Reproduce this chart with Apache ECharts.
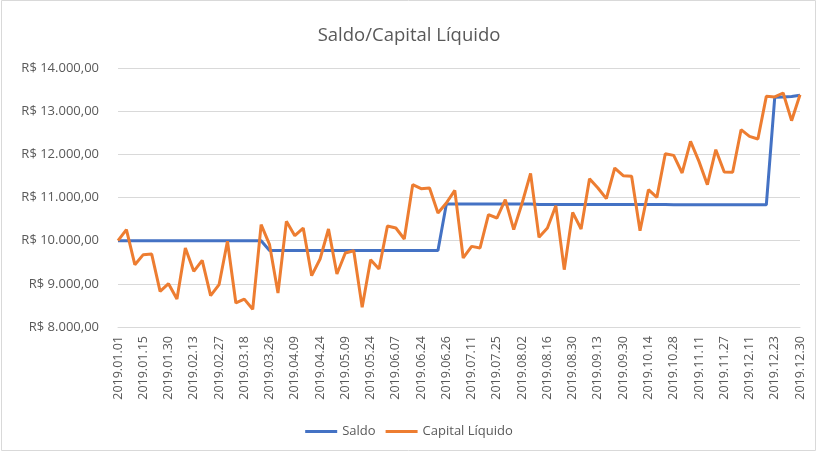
<!DOCTYPE html>
<html>
<head>
<meta charset="utf-8">
<script src="https://cdn.jsdelivr.net/npm/echarts@6/dist/echarts.min.js"></script>
<style>
  html, body { margin: 0; padding: 0; background: #fff; }
  #main { width: 818px; height: 454px; }
</style>
</head>
<body>
<div id="main"></div>
<script>
// datas (só os rótulos a cada 3 pontos aparecem no eixo)
var datas = [
  '2019.01.01','2019.01.04','2019.01.10','2019.01.15','2019.01.21','2019.01.25',
  '2019.01.30','2019.02.04','2019.02.08','2019.02.13','2019.02.18','2019.02.22',
  '2019.02.27','2019.03.07','2019.03.12','2019.03.18','2019.03.20','2019.03.22',
  '2019.03.26','2019.03.29','2019.04.03','2019.04.09','2019.04.12','2019.04.17',
  '2019.04.24','2019.04.29','2019.05.03','2019.05.09','2019.05.14','2019.05.20',
  '2019.05.24','2019.05.29','2019.06.03','2019.06.07','2019.06.12','2019.06.19',
  '2019.06.24','2019.06.25','2019.06.25','2019.06.26','2019.07.02','2019.07.05',
  '2019.07.11','2019.07.16','2019.07.19','2019.07.25','2019.07.29','2019.07.31',
  '2019.08.02','2019.08.07','2019.08.12','2019.08.16','2019.08.21','2019.08.26',
  '2019.08.30','2019.09.04','2019.09.09','2019.09.13','2019.09.18','2019.09.24',
  '2019.09.30','2019.10.03','2019.10.09','2019.10.14','2019.10.18','2019.10.23',
  '2019.10.28','2019.10.31','2019.11.06','2019.11.11','2019.11.14','2019.11.21',
  '2019.11.27','2019.12.02','2019.12.05','2019.12.11','2019.12.16','2019.12.19',
  '2019.12.23','2019.12.26','2019.12.27','2019.12.30'
];

var saldo = [
  10000,10000,10000,10000,10000,10000,10000,10000,10000,10000,
  10000,10000,10000,10000,10000,10000,10000,10000,9770,9770,
  9770,9770,9770,9770,9770,9770,9770,9770,9770,9770,
  9770,9770,9770,9770,9770,9770,9770,9770,9770,10850,
  10850,10850,10850,10850,10850,10850,10850,10850,10850,10850,
  10840,10840,10840,10840,10840,10840,10840,10840,10840,10840,
  10840,10840,10840,10840,10840,10840,10830,10830,10830,10830,
  10830,10830,10830,10830,10830,10830,10830,10830,13320,13330,
  13340,13370
];

var capitalLiquido = [
  10000,10255,9444,9676,9690,8826,9004,8650,9830,9290,
  9544,8726,8980,9985,8557,8645,8410,10370,9907,8788,
  10448,10116,10293,9189,9576,10270,9228,9715,9768,8455,
  9560,9344,10340,10293,10039,11297,11205,11220,10641,10873,
  11165,9599,9868,9831,10602,10525,10950,10255,10873,11560,
  10077,10293,10811,9328,10656,10270,11436,11220,10973,11683,
  11506,11490,10232,11181,11003,12015,11976,11568,12300,11837,
  11297,12108,11591,11583,12571,12416,12356,13343,13329,13421,
  12780,13382
];

var yTicks = [8000, 14000, 1000]; // min, max, intervalo

function reais(v) {
  var s = Math.round(v).toString().replace(/\B(?=(\d{3})+(?!\d))/g, '.');
  return 'R$ ' + s + ',00';
}

var myChart = echarts.init(document.getElementById('main'));

var fonte = '"Open Sans", "Noto Sans", sans-serif';

var option = {
  textStyle: { fontFamily: fonte },
  title: {
    text: 'Saldo/Capital Líquido',
    left: 'center',
    top: 21,
    textStyle: { fontFamily: fonte, fontSize: 18.5, fontWeight: 'normal', color: '#595959' }
  },
  legend: {
    data: ['Saldo', 'Capital Líquido'],
    bottom: 11,
    icon: 'rect',
    itemWidth: 32,
    itemHeight: 3,
    itemGap: 10,
    textStyle: { fontFamily: fonte, fontSize: 13, color: '#595959' }
  },
  grid: { left: 118, right: 18, top: 68, bottom: 127 },
  xAxis: {
    type: 'category',
    data: datas,
    boundaryGap: false,
    axisLine: { lineStyle: { color: '#d9d9d9' } },
    axisTick: { show: false },
    axisLabel: {
      interval: 2,
      rotate: 90,
      margin: 9,
      fontSize: 12.5,
      color: '#595959',
      fontFamily: fonte
    }
  },
  yAxis: {
    type: 'value',
    min: yTicks[0],
    max: yTicks[1],
    interval: yTicks[2],
    axisLine: { show: false },
    axisTick: { show: false },
    splitLine: { lineStyle: { color: '#d9d9d9' } },
    axisLabel: {
      formatter: reais,
      margin: 19,
      fontSize: 13,
      color: '#595959',
      fontFamily: fonte
    }
  },
  series: [
    {
      name: 'Saldo',
      type: 'line',
      data: saldo,
      symbol: 'none',
      lineStyle: { width: 3, color: '#4472C4' },
      itemStyle: { color: '#4472C4' },
      z: 2
    },
    {
      name: 'Capital Líquido',
      type: 'line',
      data: capitalLiquido,
      symbol: 'none',
      lineStyle: { width: 3, color: '#ED7D31' },
      itemStyle: { color: '#ED7D31' },
      z: 3
    }
  ],
  graphic: [{
    type: 'rect',
    shape: { x: 1.5, y: 0.5, width: 814, height: 450 },
    style: { fill: 'none', stroke: '#d9d9d9', lineWidth: 1 },
    silent: true
  }]
};

myChart.setOption(option);
</script>
</body>
</html>
